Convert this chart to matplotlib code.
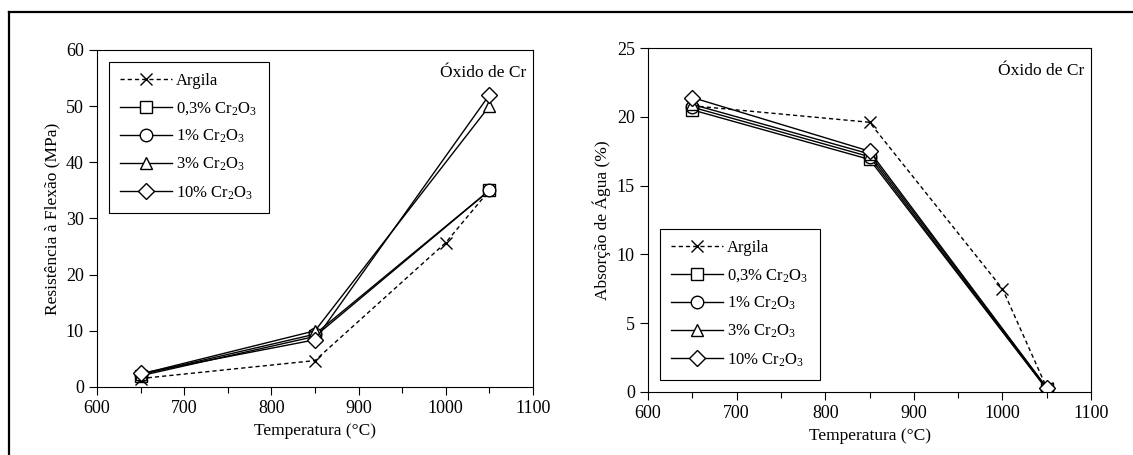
"""Flexural strength and water absorption versus firing temperature (Cr oxide)."""

import matplotlib

matplotlib.use("Agg")

import matplotlib.pyplot as plt
from matplotlib.lines import Line2D
from matplotlib.ticker import MultipleLocator

plt.rcParams["font.family"] = ["Liberation Serif", "DejaVu Serif"]
plt.rcParams["mathtext.fontset"] = "custom"
plt.rcParams["mathtext.rm"] = "Liberation Serif"
plt.rcParams["mathtext.it"] = "Liberation Serif:italic"

# temperatures (°C)
temp_argila = [650, 850, 1000, 1050]
temp_cr = [650, 850, 1050]

# flexural strength (MPa)
res_argila = [1.5, 4.7, 25.7, 35.0]
res_cr03 = [2.0, 9.0, 35.0]
res_cr1 = [2.2, 9.4, 35.0]
res_cr3 = [2.3, 10.0, 50.0]
res_cr10 = [2.4, 8.4, 52.0]

# water absorption (%)
abs_argila = [20.8, 19.6, 7.5, 0.3]
abs_cr03 = [20.5, 16.9, 0.2]
abs_cr1 = [20.7, 17.1, 0.2]
abs_cr3 = [20.9, 17.3, 0.3]
abs_cr10 = [21.4, 17.5, 0.3]

labels = [
    "Argila",
    r"0,3% Cr$_\mathregular{2}$O$_\mathregular{3}$",
    r"1% Cr$_\mathregular{2}$O$_\mathregular{3}$",
    r"3% Cr$_\mathregular{2}$O$_\mathregular{3}$",
    r"10% Cr$_\mathregular{2}$O$_\mathregular{3}$",
]
markers = ["x", "s", "o", "^", "D"]


def _draw(axis, argila, series, ymax, ystep, ylabel, legend_loc):
    axis.plot(
        temp_argila, argila, color="black", linestyle=(0, (3, 2.2)), linewidth=1.0,
        marker="x", markersize=9, markeredgewidth=1.0, label=labels[0],
    )
    for values, marker, label in zip(series, markers[1:], labels[1:]):
        axis.plot(
            temp_cr, values, color="black", linewidth=1.0, marker=marker,
            markersize=9 if marker != "D" else 8, markerfacecolor="white",
            markeredgecolor="black", markeredgewidth=1.0, label=label,
        )
    axis.set_xlim(600, 1100)
    axis.set_ylim(0, ymax)
    axis.xaxis.set_major_locator(MultipleLocator(100))
    axis.xaxis.set_minor_locator(MultipleLocator(50))
    axis.yaxis.set_major_locator(MultipleLocator(ystep))
    axis.tick_params(which="both", direction="out", top=False, right=False,
                     labelsize=13, width=0.8)
    axis.tick_params(which="major", length=6)
    axis.tick_params(which="minor", length=4)
    for spine in axis.spines.values():
        spine.set_linewidth(0.8)
    axis.set_xlabel("Temperatura (°C)", fontsize=12.5)
    axis.set_ylabel(ylabel, fontsize=12.5)
    axis.text(0.985, 0.955, "Óxido de Cr", transform=axis.transAxes,
              ha="right", va="top", fontsize=12.5)
    legend = axis.legend(
        loc=legend_loc, fontsize=12, handlelength=3.1, numpoints=1,
        fancybox=False, framealpha=1, edgecolor="black", borderpad=0.7,
        labelspacing=0.65, handletextpad=0.25, borderaxespad=0.7,
    )
    legend.get_frame().set_linewidth(0.8)


fig = plt.figure(figsize=(11.33, 4.55), dpi=100)
ax_left = fig.add_axes([0.0856, 0.1495, 0.3848, 0.7407])
ax_right = fig.add_axes([0.572, 0.1385, 0.391, 0.756])

_draw(ax_left, res_argila, [res_cr03, res_cr1, res_cr3, res_cr10], 60, 10,
      "Resistência à Flexão (MPa)", "upper left")
_draw(ax_right, abs_argila, [abs_cr03, abs_cr1, abs_cr3, abs_cr10], 25, 5,
      "Absorção de Água (%)", "lower left")

# outer page frame (top and left edges only are visible)
fig.add_artist(Line2D([9 / 1133, 1.0], [1 - 12 / 455, 1 - 12 / 455],
                      transform=fig.transFigure, color="black", linewidth=1.6))
fig.add_artist(Line2D([9 / 1133, 9 / 1133], [0.0, 1 - 12 / 455],
                      transform=fig.transFigure, color="black", linewidth=1.6))

fig.savefig("out.png", dpi=100)
plt.close(fig)
